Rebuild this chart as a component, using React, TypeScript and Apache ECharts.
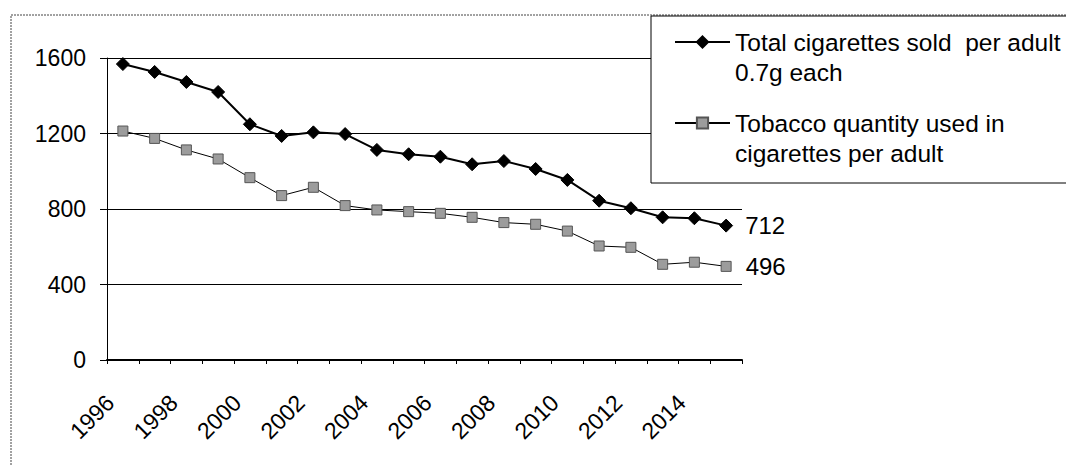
import React, { useEffect, useRef } from "react";
import * as echarts from "echarts";

// Years on the category axis
const years = [
  "1996", "1997", "1998", "1999", "2000", "2001", "2002", "2003", "2004", "2005",
  "2006", "2007", "2008", "2009", "2010", "2011", "2012", "2013", "2014", "2015",
];

// Cigarettes sold per adult (0.7 g each)
const cigarettesSold = [
  1568, 1526, 1473, 1420, 1249, 1187, 1206, 1197, 1113, 1090,
  1077, 1037, 1054, 1012, 954, 844, 804, 756, 751, 712,
];

// Tobacco quantity used in cigarettes per adult
const tobaccoUsed = [
  1213, 1174, 1113, 1065, 966, 871, 915, 818, 795, 786,
  777, 756, 728, 719, 683, 604, 597, 507, 518, 496,
];

const seriesNames = [
  "Total cigarettes sold  per adult\n0.7g each",
  "Tobacco quantity used in\ncigarettes per adult",
];

const yTicks = { min: 0, max: 1600, interval: 400 };

const FONT = "'Liberation Sans', Arial, Helvetica, sans-serif";

// Only the final value of each line carries a text label
function withEndLabel(values: number[], distance: number) {
  return values.map((v, i) =>
    i === values.length - 1
      ? {
          value: v,
          label: {
            show: true,
            position: "right",
            distance,
            fontSize: 24,
            fontFamily: FONT,
            color: "#000",
          },
        }
      : v
  );
}

// One legend block per series; a leading blank line keeps the symbol
// level with the first line of the two-line name.
function legendFor(name: string, top: number) {
  return {
    data: [name],
    orient: "vertical",
    left: 674,
    top,
    padding: 0,
    itemGap: 0,
    itemWidth: 55,
    itemHeight: 14,
    selectedMode: false,
    z: 10,
    formatter: (n: string) => "\n" + n,
    textStyle: {
      fontSize: 24.5,
      lineHeight: 30,
      fontFamily: FONT,
      color: "#000",
    },
  };
}

export default function App() {
  const ref = useRef<HTMLDivElement>(null);

  useEffect(() => {
    if (!ref.current) return;
    const chart = echarts.init(ref.current, undefined, { renderer: "svg" });

    chart.setOption({
      animation: false,
      backgroundColor: "#fff",
      textStyle: { fontFamily: FONT },
      grid: { left: 107, right: 324, top: 58, bottom: 105, containLabel: false },
      graphic: [
        {
          type: "rect",
          z: 1,
          shape: { x: 11, y: 15, width: 1200, height: 600 },
          style: { fill: "none", stroke: "#444", lineWidth: 1, lineDash: [2, 1] },
        },
        {
          type: "rect",
          z: 3,
          shape: { x: 651, y: 16, width: 500, height: 167 },
          style: { fill: "#fff", stroke: "#000", lineWidth: 1 },
        },
      ],
      legend: [legendFor(seriesNames[0], -3), legendFor(seriesNames[1], 78)],
      xAxis: {
        type: "category",
        data: years,
        boundaryGap: true,
        axisLine: { lineStyle: { color: "#000", width: 2 } },
        axisTick: { show: true, interval: 0, length: 4, lineStyle: { color: "#000" } },
        axisLabel: {
          interval: 1,
          rotate: 45,
          margin: 26,
          padding: [0, 18, 0, 0],
          fontSize: 23,
          fontFamily: FONT,
          color: "#000",
        },
        splitLine: { show: false },
      },
      yAxis: {
        type: "value",
        min: yTicks.min,
        max: yTicks.max,
        interval: yTicks.interval,
        axisLine: { show: true, lineStyle: { color: "#000", width: 1 } },
        axisTick: { show: true, length: 7, lineStyle: { color: "#000" } },
        axisLabel: {
          margin: 21,
          fontSize: 23,
          fontFamily: FONT,
          color: "#000",
          formatter: (v: number) => String(v),
        },
        splitLine: { show: true, lineStyle: { color: "#000", width: 1 } },
      },
      series: [
        {
          name: seriesNames[0],
          type: "line",
          data: withEndLabel(cigarettesSold, 12),
          symbol: "diamond",
          symbolSize: 13,
          lineStyle: { color: "#000", width: 2 },
          itemStyle: { color: "#000", borderColor: "#000", borderWidth: 1 },
          z: 3,
        },
        {
          name: seriesNames[1],
          type: "line",
          data: withEndLabel(tobaccoUsed, 14),
          symbol: "rect",
          symbolSize: 10,
          lineStyle: { color: "#000", width: 1 },
          itemStyle: { color: "#9c9c9c", borderColor: "#555", borderWidth: 1 },
          z: 2,
        },
      ],
    });

    return () => chart.dispose();
  }, []);

  return (
    <div
      ref={ref}
      style={{ position: "absolute", left: 0, top: 0, width: 1066, height: 465 }}
    />
  );
}
